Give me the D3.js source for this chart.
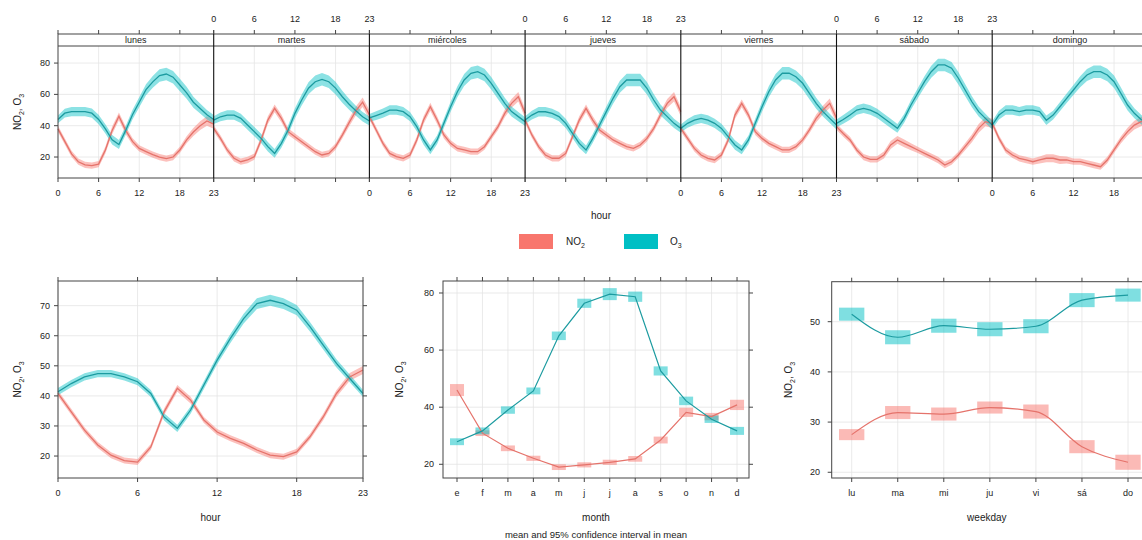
<!DOCTYPE html>
<html><head><meta charset="utf-8">
<script src="https://cdn.jsdelivr.net/npm/d3@7"></script>
<style>
body{margin:0;background:#fff}
text{font-family:"Liberation Sans",Arial,Helvetica,sans-serif;fill:#222}
</style>
</head><body><svg id="c" width="1142" height="540"></svg>
<script>
// ---------------- DATA ----------------
const days = ["lunes","martes","miércoles","jueves","viernes","sábado","domingo"];
const hourTicks = [0,6,12,18,23];
const months = ["e","f","m","a","m","j","j","a","s","o","n","d"];
const weekdays = ["lu","ma","mi","ju","vi","sá","do"];
const series = ["NO2","O3"];

// hour-of-week means (one array of 24 hourly values per day)
const o3ByDay = [
 [44,48,49,49,49,48,44,38,31,28,37,47,55,63,68,72,73,71,66,61,55,51,47,44],
 [43.6,45.7,46.8,46.8,44.7,40.4,36.2,31.9,26.6,22.3,28.7,37.3,47.9,56.4,63.9,68.1,69.6,68.1,64,58.5,53.7,49.5,45.7,43],
 [45,46.5,48,50,50,49,45.8,39.4,30.9,24.5,30.9,41.5,52.1,61.7,69.2,73.5,74.5,72.4,67.1,60.7,54.3,49,45.8,42.6],
 [43.6,46.8,48.9,48.9,47.9,45.8,41.5,35.1,28.7,24.5,31.9,40.4,49,57.5,64.9,69.2,69.2,69.2,63.9,56.4,50,45.8,41.5,38.3],
 [38.3,41.5,43.6,44.7,43.6,41.5,38.3,33,27.7,24.5,30.9,41.5,52.1,61.7,69.2,73.5,73.5,71.3,67.1,60.7,54.3,49,44.7,40.4],
 [41.5,44,46.8,50,51.1,50,47.9,44.7,41.5,38.3,44.7,53.2,60.7,68.1,74.5,78.8,78.8,76.7,70.3,62.8,55.3,49,44.7,40.4],
 [40.4,46.8,50,50,49,50,50,49,43.5,46.8,52.1,57.5,62.8,68.1,72.4,74.5,74.5,72.4,68.1,60.7,53.2,47.9,44,41]
];
const no2ByDay = [
 [38,30,22,17,15,14.5,15.5,24.5,37,46,37,30,25.5,23.5,21.5,20,19,20,24.5,31,36,40,43,41],
 [38.3,31.9,24.5,19.2,17,18.1,20.2,30.9,43.6,51.1,44.7,36.2,33,29.8,26.6,23.4,21.3,22.3,26.6,34,42,49.5,55,47],
 [45.8,37.3,28.7,22.3,20.2,19.2,21.3,30.9,43.6,52.1,43.6,34.1,28.7,25.5,24.5,23.4,23.4,26.6,33,39.4,47.9,54.3,58.5,47.9],
 [43.6,34.1,26.6,21.3,19.2,19.2,22.3,33,43.6,51.1,43.6,37.3,34.1,30.9,28.7,26.6,25.5,27.7,31.9,38.3,46.8,54.3,58.5,49],
 [38.3,31.9,25.5,21.3,19.2,18.1,21.3,30.9,46.8,54.3,46.8,36.2,31.9,28.7,26.6,24.5,24.5,26.6,30.9,37.3,44.7,50,54.3,44.7],
 [39.4,35,30.9,24.5,20,18.5,18.5,21.3,27.7,30.9,28.7,26.6,24.5,22.3,20.2,18.1,14.9,17,21.3,26.6,31.9,38.3,42.6,41.5],
 [41.5,31.9,24.5,21.3,19.2,18.1,17,18.1,19.2,19.2,18.1,18.1,17,17,16,14.9,13.8,18.1,24.5,30.9,36.2,40.4,42.6,44]
];
// half-width of the 95% CI by hour in the week panel
const o3WeekCI  = [2.5,2.8,3,3,3,3,3,3,3,2.8,2.8,3,3.2,3.5,3.8,4,4,4,4,3.8,3.5,3.2,3,2.8];
const no2WeekCI = [2,2,2,2,2,2,2,2.2,2.5,2.5,2.5,2.2,2,2,2,2,2,2,2,2.2,2.5,2.8,3,3];

// hour-of-day means
const o3Hour  = [41.4,44.1,46.3,47.4,47.4,46.3,44.7,40.8,33,29.2,35.3,43.6,51.9,59.1,65.7,70.7,71.8,70.7,68.5,63,56.9,50.8,45.8,40.8];
const no2Hour = [40.8,34.7,28.6,23.7,20.3,18.5,18,23,34.7,42.5,38.6,32,28,25.9,24.2,22,20.3,19.8,21.4,26.4,33,40.8,46.3,48.6];
const o3HourCI  = [1.2,1.2,1.2,1.2,1.2,1.2,1.2,1.2,1.2,1.2,1.2,1.3,1.4,1.5,1.6,1.8,1.8,1.8,1.7,1.6,1.5,1.4,1.3,1.2];
const no2HourCI = [1,1,1,1,1,1,1,1,1.1,1.1,1.1,1,1,1,1,1,1,1,1,1,1.1,1.2,1.3,1.3];

// monthly means
const o3Month  = [27.9,31.7,39,45.7,65,76.4,79.6,78.7,52.7,42.2,35.8,31.7];
const no2Month = [46,30.9,25.6,22.1,19,19.8,20.7,21.9,28.5,38.2,36.7,40.8];
const o3MonthCI  = [1.2,1.2,1.3,1.2,1.5,1.6,2.1,1.8,1.6,1.5,1.3,1.4];
const no2MonthCI = [2.1,1.0,1.0,0.9,1.0,0.9,0.9,1.0,1.2,1.6,1.3,1.8];

// weekday means
const o3Wd  = [51.5,46.9,49.2,48.5,49.1,54.3,55.3];
const no2Wd = [27.5,31.9,31.6,32.9,32.1,25.1,22.0];
const o3WdCI  = [1.3,1.4,1.4,1.4,1.4,1.4,1.3];
const no2WdCI = [1.1,1.3,1.3,1.2,1.4,1.3,1.5];

const topYTicks = [20,40,60,80];
const hourYTicks = [20,30,40,50,60,70];
const monthYTicks = [20,40,60,80];
const wdYTicks = [20,30,40,50];

// ---------------- STYLE ----------------
const W = 1142;
const col = {NO2:"#F8766D", O3:"#00BFC4"};
const lineCol = {NO2:"#E5736B", O3:"#1C9BA0"};
const gridCol = "#e4e4e4";
const axisCol = "#444";

const svg = d3.select("#c");

function yTitle(x, y){
  const t = svg.append("text").attr("transform",`translate(${x},${y}) rotate(-90)`)
    .attr("text-anchor","middle").attr("font-size",10);
  t.append("tspan").text("NO");
  t.append("tspan").attr("font-size",7).attr("dy",3).text("2");
  t.append("tspan").attr("dy",-3).text(", O");
  t.append("tspan").attr("font-size",7).attr("dy",3).text("3");
}

// ---------------- TOP PANEL ----------------
const TX0 = 58, DAYW = 155.7, TY0 = 46, TY1 = 178, STRIP0 = 34;
const yTop = d3.scaleLinear().domain([6.6, 90.9]).range([TY1, TY0]);
const gTop = svg.append("g");
const xEnd = TX0 + 7*DAYW;

// grid
days.forEach((d,i)=>{
  const xs = d3.scaleLinear().domain([0,23]).range([TX0+i*DAYW, TX0+(i+1)*DAYW]);
  gTop.selectAll(null).data(hourTicks.slice(1,4)).enter().append("line")
    .attr("x1",v=>xs(v)).attr("x2",v=>xs(v)).attr("y1",TY0).attr("y2",TY1)
    .attr("stroke",gridCol).attr("stroke-width",0.8);
});
gTop.selectAll(null).data(topYTicks).enter().append("line")
  .attr("x1",TX0).attr("x2",xEnd).attr("y1",v=>yTop(v)).attr("y2",v=>yTop(v))
  .attr("stroke",gridCol).attr("stroke-width",0.8);

// bands + lines
days.forEach((d,i)=>{
  const xs = d3.scaleLinear().domain([0,23]).range([TX0+i*DAYW, TX0+(i+1)*DAYW]);
  [["NO2",no2ByDay[i],no2WeekCI],["O3",o3ByDay[i],o3WeekCI]].forEach(([s,vals,ci])=>{
    const area = d3.area().x((v,h)=>xs(h)).y0((v,h)=>yTop(v-ci[h])).y1((v,h)=>yTop(v+ci[h]));
    gTop.append("path").attr("d",area(vals)).attr("fill",col[s]).attr("fill-opacity",0.45);
  });
  [["NO2",no2ByDay[i]],["O3",o3ByDay[i]]].forEach(([s,vals])=>{
    const line = d3.line().x((v,h)=>xs(h)).y(v=>yTop(v));
    gTop.append("path").attr("d",line(vals)).attr("fill","none")
      .attr("stroke",lineCol[s]).attr("stroke-width",1.3);
  });
});

// frame, strips, separators
gTop.append("rect").attr("x",TX0).attr("y",STRIP0).attr("width",xEnd-TX0).attr("height",TY1-STRIP0)
  .attr("fill","none").attr("stroke",axisCol).attr("stroke-width",1);
gTop.append("line").attr("x1",TX0).attr("x2",xEnd).attr("y1",TY0).attr("y2",TY0)
  .attr("stroke",axisCol).attr("stroke-width",1);
days.forEach((d,i)=>{
  const x0 = TX0+i*DAYW;
  if(i>0) gTop.append("line").attr("x1",x0).attr("x2",x0).attr("y1",STRIP0).attr("y2",TY1)
    .attr("stroke","#111").attr("stroke-width",1.1);
  gTop.append("text").attr("x",x0+DAYW/2).attr("y",43).attr("text-anchor","middle")
    .attr("font-size",9).text(d);
  const xs = d3.scaleLinear().domain([0,23]).range([x0, x0+DAYW]);
  // ticks both sides
  gTop.selectAll(null).data(hourTicks).enter().append("line")
    .attr("x1",v=>xs(v)).attr("x2",v=>xs(v)).attr("y1",TY1).attr("y2",TY1+4)
    .attr("stroke",axisCol);
  gTop.selectAll(null).data(hourTicks).enter().append("line")
    .attr("x1",v=>xs(v)).attr("x2",v=>xs(v)).attr("y1",STRIP0).attr("y2",STRIP0-4)
    .attr("stroke",axisCol);
  const bottom = i%2===0;
  gTop.selectAll(null).data(hourTicks.filter(v=>xs(v)+5<W)).enter().append("text")
    .attr("x",v=>xs(v)).attr("y",bottom?196:22).attr("text-anchor","middle")
    .attr("font-size",9).text(v=>v);
});
// left y axis
gTop.selectAll(null).data(topYTicks).enter().append("line")
  .attr("x1",TX0-4).attr("x2",TX0).attr("y1",v=>yTop(v)).attr("y2",v=>yTop(v)).attr("stroke",axisCol);
gTop.selectAll(null).data(topYTicks).enter().append("text")
  .attr("x",TX0-8).attr("y",v=>yTop(v)+3).attr("text-anchor","end").attr("font-size",9).text(v=>v);
yTitle(21,112);
svg.append("text").attr("x",601).attr("y",219).attr("text-anchor","middle").attr("font-size",10).text("hour");

// legend
const leg = svg.append("g");
[["NO2",519,566,"NO","2"],["O3",624,670,"O","3"]].forEach(([s,rx,tx,a,b])=>{
  leg.append("rect").attr("x",rx).attr("y",234).attr("width",34).attr("height",15).attr("fill",col[s]);
  const t = leg.append("text").attr("x",tx).attr("y",245).attr("font-size",10);
  t.append("tspan").text(a);
  t.append("tspan").attr("font-size",7).attr("dy",3).text(b);
});

// ---------------- BOTTOM PANELS ----------------
function frame(g, x0, x1, y0, y1, xScale, xTicks, xLab, yScale, yTicks, xTitle, yTitleX, yLabX){
  g.append("rect").attr("x",x0).attr("y",y0).attr("width",x1-x0).attr("height",y1-y0)
    .attr("fill","none").attr("stroke",axisCol).attr("stroke-width",1);
  xTicks.forEach((v,k)=>{
    const x = xScale(v);
    g.append("line").attr("x1",x).attr("x2",x).attr("y1",y1).attr("y2",y1+4).attr("stroke",axisCol);
    g.append("line").attr("x1",x).attr("x2",x).attr("y1",y0).attr("y2",y0-4).attr("stroke",axisCol);
    g.append("text").attr("x",x).attr("y",y1+18).attr("text-anchor","middle").attr("font-size",9).text(xLab[k]);
  });
  yTicks.forEach(v=>{
    const y = yScale(v);
    g.append("line").attr("x1",x0-4).attr("x2",x0).attr("y1",y).attr("y2",y).attr("stroke",axisCol);
    g.append("line").attr("x1",x1).attr("x2",x1+4).attr("y1",y).attr("y2",y).attr("stroke",axisCol);
    g.append("text").attr("x",yLabX).attr("y",y+3).attr("text-anchor","end").attr("font-size",9).text(v);
  });
  g.append("text").attr("x",(x0+Math.min(x1,W))/2).attr("y",521).attr("text-anchor","middle").attr("font-size",10).text(xTitle);
  yTitle(yTitleX,(y0+y1)/2);
}
function grid(g, x0, x1, y0, y1, xs, yv){
  g.selectAll(null).data(xs).enter().append("line").attr("x1",d=>d).attr("x2",d=>d)
    .attr("y1",y0).attr("y2",y1).attr("stroke",gridCol).attr("stroke-width",0.8);
  g.selectAll(null).data(yv).enter().append("line").attr("x1",x0).attr("x2",x1)
    .attr("y1",d=>d).attr("y2",d=>d).attr("stroke",gridCol).attr("stroke-width",0.8);
}

const BY0 = 281, BY1 = 478;

// hour panel
{
  const g = svg.append("g");
  const x = d3.scaleLinear().domain([0,23]).range([58,363]);
  const y = d3.scaleLinear().domain([12.7,78.2]).range([BY1,BY0]);
  grid(g,58,363,BY0,BY1,hourTicks.map(x),hourYTicks.map(y));
  [["NO2",no2Hour,no2HourCI],["O3",o3Hour,o3HourCI]].forEach(([s,vals,ci])=>{
    g.append("path").attr("d",d3.area().x((v,h)=>x(h)).y0((v,h)=>y(v-ci[h])).y1((v,h)=>y(v+ci[h]))(vals))
      .attr("fill",col[s]).attr("fill-opacity",0.45);
  });
  [["NO2",no2Hour],["O3",o3Hour]].forEach(([s,vals])=>{
    g.append("path").attr("d",d3.line().x((v,h)=>x(h)).y(v=>y(v))(vals))
      .attr("fill","none").attr("stroke",lineCol[s]).attr("stroke-width",1.3);
  });
  frame(g,58,363,BY0,BY1,x,hourTicks,hourTicks,y,hourYTicks,"hour",21,50);
}

// month panel
{
  const g = svg.append("g");
  const x = d3.scaleLinear().domain([0.45,12.47]).range([443,749]);
  const y = d3.scaleLinear().domain([15.2,84.2]).range([BY1,BY0]);
  const idx = months.map((m,i)=>i+1);
  grid(g,443,749,BY0,BY1,idx.map(x),monthYTicks.map(y));
  const w = 0.55*(x(2)-x(1));
  [["NO2",no2Month,no2MonthCI],["O3",o3Month,o3MonthCI]].forEach(([s,vals,ci])=>{
    g.selectAll(null).data(vals).enter().append("rect")
      .attr("x",(v,i)=>x(i+1)-w/2).attr("width",w)
      .attr("y",(v,i)=>y(v+ci[i])).attr("height",(v,i)=>y(v-ci[i])-y(v+ci[i]))
      .attr("fill",col[s]).attr("fill-opacity",0.5);
  });
  [["NO2",no2Month],["O3",o3Month]].forEach(([s,vals])=>{
    g.append("path").attr("d",d3.line().x((v,i)=>x(i+1)).y(v=>y(v))(vals))
      .attr("fill","none").attr("stroke",lineCol[s]).attr("stroke-width",1.2);
  });
  frame(g,443,749,BY0,BY1,x,idx,months,y,monthYTicks,"month",403,434);
  svg.append("text").attr("x",596).attr("y",538).attr("text-anchor","middle").attr("font-size",9.5)
    .text("mean and 95% confidence interval in mean");
}

// weekday panel
{
  const g = svg.append("g");
  const x = d3.scaleLinear().domain([0.566,7.434]).range([831.7,1148]);
  const y = d3.scaleLinear().domain([18.86,57.97]).range([BY1,281.7]);
  const idx = weekdays.map((d,i)=>i+1);
  grid(g,831.7,1148,281.7,BY1,idx.map(x),wdYTicks.map(y));
  const w = 0.55*(x(2)-x(1));
  [["NO2",no2Wd,no2WdCI],["O3",o3Wd,o3WdCI]].forEach(([s,vals,ci])=>{
    g.selectAll(null).data(vals).enter().append("rect")
      .attr("x",(v,i)=>x(i+1)-w/2).attr("width",w)
      .attr("y",(v,i)=>y(v+ci[i])).attr("height",(v,i)=>y(v-ci[i])-y(v+ci[i]))
      .attr("fill",col[s]).attr("fill-opacity",0.5);
  });
  [["NO2",no2Wd],["O3",o3Wd]].forEach(([s,vals])=>{
    g.append("path").attr("d",d3.line().curve(d3.curveMonotoneX).x((v,i)=>x(i+1)).y(v=>y(v))(vals))
      .attr("fill","none").attr("stroke",lineCol[s]).attr("stroke-width",1.2);
  });
  frame(g,831.7,1148,281.7,BY1,x,idx,weekdays,y,wdYTicks,"weekday",792,820);
}
</script></body></html>
